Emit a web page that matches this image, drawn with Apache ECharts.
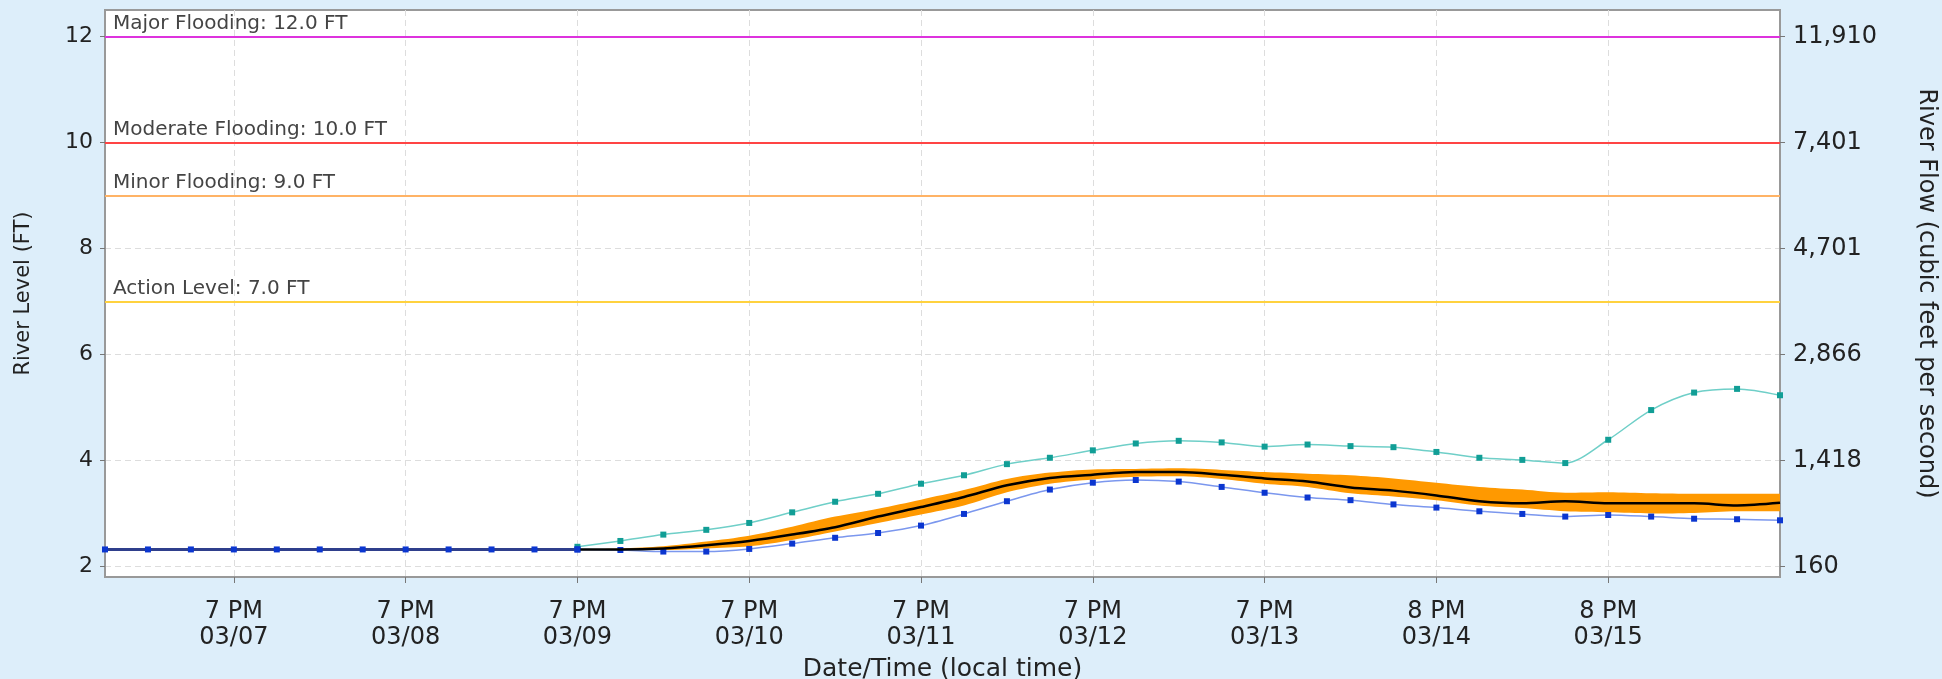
<!DOCTYPE html>
<html>
<head>
<meta charset="utf-8">
<script src="https://cdn.jsdelivr.net/npm/echarts@6/dist/echarts.min.js"></script>
<style>
html,body{margin:0;padding:0;background:#DDEEFA;}
#chart{width:1942px;height:679px;}
</style>
</head>
<body>
<div id="chart"></div>
<script>
// 6-hourly time steps (local time)
const times = [
 "03/07 1 AM","03/07 7 AM","03/07 1 PM","03/07 7 PM",
 "03/08 1 AM","03/08 7 AM","03/08 1 PM","03/08 7 PM",
 "03/09 1 AM","03/09 7 AM","03/09 1 PM","03/09 7 PM",
 "03/10 1 AM","03/10 7 AM","03/10 1 PM","03/10 7 PM",
 "03/11 1 AM","03/11 7 AM","03/11 1 PM","03/11 7 PM",
 "03/12 1 AM","03/12 7 AM","03/12 1 PM","03/12 7 PM",
 "03/13 1 AM","03/13 7 AM","03/13 1 PM","03/13 7 PM",
 "03/14 1 AM","03/14 8 AM","03/14 2 PM","03/14 8 PM",
 "03/15 2 AM","03/15 8 AM","03/15 2 PM","03/15 8 PM",
 "03/16 2 AM","03/16 8 AM","03/16 2 PM","03/16 8 PM"
];
const labeledTimes = ["03/07 7 PM","03/08 7 PM","03/09 7 PM","03/10 7 PM","03/11 7 PM","03/12 7 PM","03/13 7 PM","03/14 8 PM","03/15 8 PM"];

// observed stage (FT)
const observed = [2.32,2.32,2.32,2.32,2.32,2.32,2.32,2.32,2.32,2.32,2.32,2.32];
// forecast starts at this time step
const forecastStart = "03/09 7 PM";
const forecastUpper = [2.37,2.48,2.60,2.69,2.82,3.02,3.22,3.37,3.56,3.72,3.93,4.05,4.19,4.32,4.37,4.34,4.26,4.30,4.27,4.25,4.16,4.05,4.01,3.95,4.39,4.95,5.28,5.35,5.23];
const forecastLower = [2.32,2.31,2.28,2.28,2.33,2.43,2.54,2.63,2.77,2.99,3.23,3.45,3.58,3.63,3.60,3.50,3.39,3.30,3.25,3.17,3.11,3.04,2.99,2.94,2.97,2.94,2.90,2.89,2.87];
const forecastMedian = [2.32,2.32,2.34,2.40,2.48,2.60,2.74,2.94,3.12,3.31,3.53,3.67,3.73,3.78,3.78,3.73,3.66,3.60,3.49,3.43,3.34,3.23,3.19,3.23,3.19,3.19,3.19,3.15,3.20];
const bandLow  = [2.32,2.31,2.31,2.34,2.38,2.50,2.66,2.82,2.98,3.15,3.40,3.56,3.64,3.69,3.70,3.65,3.56,3.50,3.38,3.32,3.25,3.15,3.10,3.04,3.02,3.00,3.01,3.04,3.04];
const bandHigh = [2.32,2.34,2.38,2.47,2.58,2.75,2.94,3.09,3.26,3.44,3.65,3.77,3.83,3.84,3.85,3.82,3.78,3.75,3.72,3.66,3.58,3.50,3.45,3.39,3.40,3.38,3.37,3.37,3.37];

// thresholds
const thresholdNames  = ["Major Flooding","Moderate Flooding","Minor Flooding","Action Level"];
const thresholdValues = [12.0,10.0,9.0,7.0];
const thresholdColors = ["#DD33DD","#FF4444","#FFB366","#FFD23F"];

// axis ticks
const stageTicks = [2,4,6,8,10,12];
const flowTicks  = ["160","1,418","2,866","4,701","7,401","11,910"];

const FONT = "DejaVu Sans";
const fStart = times.indexOf(forecastStart);
function pad(arr){ const out = times.map(()=>null); arr.forEach((v,i)=>{ out[fStart+i]=v; }); return out; }
const obsData = times.map((t,i)=> i<observed.length ? observed[i] : null);
const bandDiff = bandHigh.map((v,i)=> +(v-bandLow[i]).toFixed(3));
const isLabeled = (i)=> labeledTimes.indexOf(times[i]) >= 0;

const chart = echarts.init(document.getElementById('chart'), null, {renderer:'canvas'});
const yCommon = {
  type:'value', min:1.8, max:12.5,
  axisLine:{show:true, lineStyle:{color:'#999', width:2}},
  axisTick:{show:true, length:5, lineStyle:{color:'#777'}, customValues: stageTicks}
};
chart.setOption({
  backgroundColor:'#DDEEFA',
  animation:false,
  grid:{left:105, right:162, top:10, bottom:102, outerBoundsMode:'none', containLabel:false,
        show:true, backgroundColor:'#FFFFFF', borderColor:'#999', borderWidth:2},
  xAxis:{
    type:'category', data:times, boundaryGap:false,
    name:'Date/Time (local time)', nameLocation:'middle', nameGap:80,
    nameTextStyle:{fontFamily:FONT, fontSize:25, color:'#222'},
    axisLine:{lineStyle:{color:'#999', width:2}},
    axisTick:{show:true, length:6, interval:(i)=>isLabeled(i), lineStyle:{color:'#777'}},
    axisLabel:{interval:(i)=>isLabeled(i), fontFamily:FONT, fontSize:24, color:'#222', lineHeight:26, margin:22,
      formatter:(v)=>{ const p=v.split(' '); return p[1]+' '+p[2]+'\n'+p[0]; }},
    splitLine:{show:true, interval:(i)=>isLabeled(i), lineStyle:{color:'#DDDDDD', type:[6,4], width:1}}
  },
  yAxis:[
    Object.assign({}, yCommon, {
      position:'left', name:'River Level (FT)', nameLocation:'middle', nameGap:71,
      nameTextStyle:{fontFamily:FONT, fontSize:21, color:'#222'},
      axisLabel:{fontFamily:FONT, fontSize:22, color:'#222', margin:12, customValues: stageTicks, formatter:(v)=>String(v)},
      splitLine:{show:true, lineStyle:{color:'#DDDDDD', type:[6,4], width:1}}
    }),
    Object.assign({}, yCommon, {
      position:'right', name:'River Flow (cubic feet per second)', nameLocation:'middle', nameGap:134, nameRotate:-90,
      nameTextStyle:{fontFamily:FONT, fontSize:24, color:'#222'},
      axisLabel:{fontFamily:FONT, fontSize:24, color:'#222', margin:13, customValues: stageTicks,
        formatter:(v)=>{ const k = stageTicks.indexOf(Math.round(v)); return k>=0 ? flowTicks[k] : ''; }},
      splitLine:{show:false}
    })
  ],
  series:[
    {
      name:'bandBase', type:'line', data:pad(bandLow), stack:'band', smooth:0.3,
      symbol:'none', lineStyle:{opacity:0}, z:2, silent:true,
      markLine:{
        silent:true, symbol:'none',
        data: thresholdNames.map((n,k)=>({
          name:n, yAxis:thresholdValues[k],
          lineStyle:{color:thresholdColors[k], width:2, type:'solid'},
          label:{show:true, position:'insideStartTop', distance:[8,3], formatter:n+': '+thresholdValues[k].toFixed(1)+' FT',
            fontFamily:FONT, fontSize:20, color:'#444'}
        }))
      }
    },
    {
      name:'band', type:'line', data:pad(bandDiff), stack:'band', smooth:0.3,
      symbol:'none', lineStyle:{opacity:0}, areaStyle:{color:'#FF9900', opacity:1}, z:2, silent:true
    },
    {
      name:'upper', type:'line', data:pad(forecastUpper), smooth:0.3,
      symbol:'rect', symbolSize:6, itemStyle:{color:'#119E96'},
      lineStyle:{color:'#6FCFC8', width:1.5}, z:4
    },
    {
      name:'lower', type:'line', data:pad(forecastLower), smooth:0.3,
      symbol:'rect', symbolSize:6, itemStyle:{color:'#0B36D0'},
      lineStyle:{color:'#7B97EE', width:1.5}, z:4
    },
    {
      name:'median', type:'line', data:pad(forecastMedian), smooth:0.3,
      symbol:'none', lineStyle:{color:'#000000', width:2.5}, z:5
    },
    {
      name:'observed', type:'line', data:obsData,
      symbol:'rect', symbolSize:6, itemStyle:{color:'#0B36D0'},
      lineStyle:{color:'#2F3F8C', width:3}, z:6
    }
  ]
});
</script>
</body>
</html>
